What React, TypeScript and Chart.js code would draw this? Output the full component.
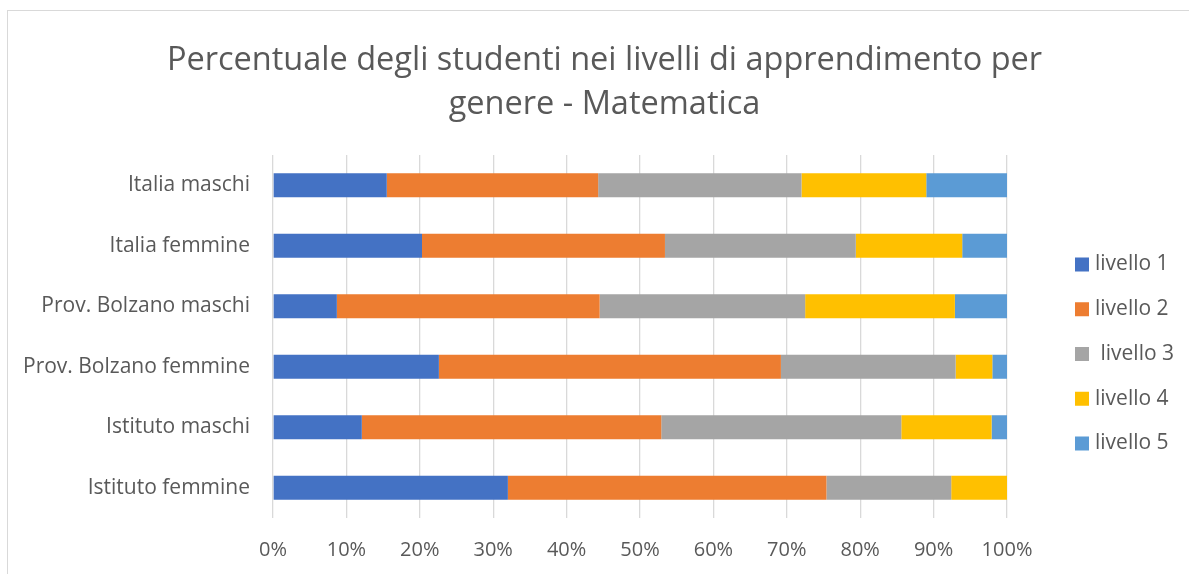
import React, { useEffect, useRef } from "react";
import { Chart, registerables } from "chart.js";

Chart.register(...registerables);

const categories = [
  "Italia maschi",
  "Italia femmine",
  "Prov. Bolzano maschi",
  "Prov. Bolzano femmine",
  "Istituto maschi",
  "Istituto femmine",
];

const seriesLabels = ["livello 1", "livello 2", " livello 3", "livello 4", "livello 5"];

const livello1 = [15.5, 20.3, 8.7, 22.6, 12.1, 32.0];
const livello2 = [28.8, 33.1, 35.8, 46.6, 40.8, 43.4];
const livello3 = [27.7, 26.0, 28.0, 23.8, 32.7, 17.0];
const livello4 = [17.0, 14.5, 20.4, 5.0, 12.3, 7.6];
const livello5 = [11.0, 6.1, 7.1, 2.0, 2.1, 0];

const seriesColors = ["#4472C4", "#ED7D31", "#A5A5A5", "#FFC000", "#5B9BD5"];

const titleLines = [
  "Percentuale degli studenti nei livelli di apprendimento per",
  "genere - Matematica",
];

const FONT = "'Open Sans', 'Noto Sans', sans-serif";
const TEXT = "#595959";

export default function App() {
  const ref = useRef<HTMLCanvasElement | null>(null);

  useEffect(() => {
    if (!ref.current) return;
    const values = [livello1, livello2, livello3, livello4, livello5];

    const framePlugin = {
      id: "frame",
      beforeDraw(chart: any) {
        const ctx = chart.ctx;
        ctx.save();
        ctx.fillStyle = "#ffffff";
        ctx.fillRect(0, 0, chart.width, chart.height);
        ctx.strokeStyle = "#d9d9d9";
        ctx.lineWidth = 1;
        ctx.strokeRect(7.5, 10.5, chart.width + 50, chart.height + 50);
        ctx.restore();
      },
    };

    const legendPlugin = {
      id: "sideLegend",
      afterDraw(chart: any) {
        const ctx = chart.ctx;
        const ds = chart.data.datasets;
        const spacing = 44.75;
        const centerY = 354;
        const boxX = chart.chartArea.right + 68;
        ctx.save();
        ctx.font = `21px ${FONT}`;
        ctx.textBaseline = "middle";
        ctx.textAlign = "left";
        ds.forEach((d: any, i: number) => {
          const y = centerY + (i - (ds.length - 1) / 2) * spacing;
          ctx.fillStyle = d.backgroundColor;
          ctx.fillRect(boxX, y - 7, 14, 14);
          ctx.fillStyle = TEXT;
          ctx.fillText(d.label, boxX + 20, y);
        });
        ctx.restore();
      },
    };

    const chart = new Chart(ref.current, {
      type: "bar",
      data: {
        labels: categories,
        datasets: seriesLabels.map((label, i) => ({
          label,
          data: values[i],
          backgroundColor: seriesColors[i],
          borderWidth: 0,
          barPercentage: 0.397,
          categoryPercentage: 1,
          xAxisID: "x",
          yAxisID: "y",
        })),
      },
      options: {
        indexAxis: "y",
        responsive: false,
        animation: false,
        layout: { padding: { left: 20, right: 0, top: 0, bottom: 0 } },
        plugins: {
          legend: { display: false },
          tooltip: { enabled: false },
          title: {
            display: true,
            text: titleLines,
            color: TEXT,
            font: { family: FONT, size: 32.5, weight: "normal", lineHeight: 1.354 },
            padding: { top: 38.75, bottom: 28.25 },
          },
        },
        scales: {
          x: {
            stacked: true,
            min: 0,
            max: 100,
            ticks: {
              stepSize: 10,
              color: TEXT,
              font: { family: FONT, size: 20 },
              padding: 20,
              maxRotation: 0,
              callback: (v: any) => `${v}%`,
            },
            grid: { color: "#d9d9d9", lineWidth: 1.3, drawTicks: false },
            border: { display: false },
            afterFit: (s: any) => {
              s.height = 56;
            },
          },
          y: {
            stacked: true,
            ticks: {
              color: TEXT,
              font: { family: FONT, size: 21 },
              padding: 23,
            },
            grid: { display: false, drawTicks: false },
            border: { display: false },
            afterFit: (s: any) => {
              s.width = 253;
            },
          },
          yR: {
            axis: "y",
            type: "category",
            position: "right",
            ticks: { display: false },
            grid: { display: false, drawTicks: false },
            border: { display: false },
            afterFit: (s: any) => {
              s.width = 182;
            },
          },
        },
      },
      plugins: [framePlugin, legendPlugin],
    } as any);

    return () => chart.destroy();
  }, []);

  return (
    <div style={{ position: "absolute", left: 0, top: 0, width: 1189, height: 574 }}>
      <canvas ref={ref} width={1189} height={574} />
    </div>
  );
}
